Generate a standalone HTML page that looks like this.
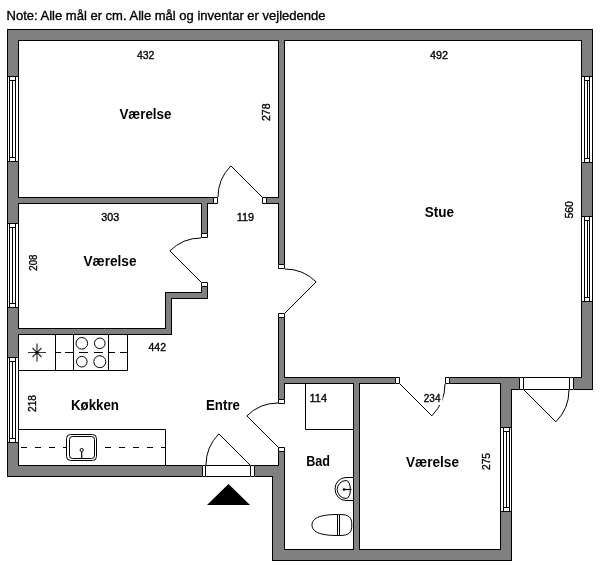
<!DOCTYPE html>
<html><head><meta charset="utf-8"><style>
html,body{margin:0;padding:0;background:#fff;width:600px;height:566px;overflow:hidden;position:relative}
svg text{font-family:"Liberation Sans",sans-serif}
</style></head><body>
<svg width="600" height="566" viewBox="0 0 600 566" style="position:absolute;left:0;top:0;will-change:transform">
<path d="M7 29H593V41H7ZM7 29H19V477H7ZM581 29H593V390H581ZM7 465H285V477H7ZM272 465H285V561H272ZM272 549H512V561H272ZM500 377H512V561H500ZM500 377H593V390H500ZM278 29H285V477H278ZM7 197H285V204H7ZM201 197H208V299H201ZM165 292H208V299H165ZM165 292H172V335H165ZM7 328H172V335H7ZM278 377H512V384H278ZM353 377H360V561H353Z" fill="#000"/>
<path d="M8 30H592V40H8ZM8 30H18V476H8ZM582 30H592V389H582ZM8 466H284V476H8ZM273 466H284V560H273ZM273 550H511V560H273ZM501 378H511V560H501ZM501 378H592V389H501ZM279 30H284V476H279ZM8 198H284V203H8ZM202 198H207V298H202ZM166 293H207V298H166ZM166 293H171V334H166ZM8 329H171V334H8ZM279 378H511V383H279ZM354 378H359V560H354Z" fill="#808080"/>
<path d="M213 197H267V204H213ZM201 233H208V287H201ZM278 264H285V318H278ZM278 399H285V452H278ZM395 377H450V384H395ZM202 465H255V477H202ZM519 377H574V390H519ZM7 76H19V162H7ZM7 223H19V308H7ZM7 357H19V443H7ZM581 76H593V163H581ZM581 216H593V302H581ZM500 427H512V512H500Z" fill="#fff"/>
<path d="M206 465.5H250M206 476.5H250M524 377.5H569M524 389.5H569M213.5 197.5H217.5V203.5H213.5ZM262.5 197.5H266.5V203.5H262.5ZM201.5 233.5H207.5V237.5H201.5ZM201.5 282.5H207.5V286.5H201.5ZM278.5 264.5H284.5V268.5H278.5ZM278.5 313.5H284.5V317.5H278.5ZM278.5 399.5H284.5V403.5H278.5ZM278.5 447.5H284.5V451.5H278.5ZM395.5 377.5H399.5V383.5H395.5ZM445.5 377.5H449.5V383.5H445.5ZM202.5 465.5H205.5V476.5H202.5ZM250.5 465.5H254.5V476.5H250.5ZM519.5 377.5H523.5V389.5H519.5ZM569.5 377.5H573.5V389.5H569.5ZM7.5 76V162M18.5 76V162M7.5 76.5H18.5M7.5 161.5H18.5M9.5 76V162M15.5 76V162M9.5 80.5H15.5M9.5 157.5H15.5M12.5 80.5V157.5M7.5 223V308M18.5 223V308M7.5 223.5H18.5M7.5 307.5H18.5M9.5 223V308M15.5 223V308M9.5 227.5H15.5M9.5 303.5H15.5M12.5 227.5V303.5M7.5 357V443M18.5 357V443M7.5 357.5H18.5M7.5 442.5H18.5M9.5 357V443M15.5 357V443M9.5 361.5H15.5M9.5 438.5H15.5M12.5 361.5V438.5M581.5 76V163M592.5 76V163M581.5 76.5H592.5M581.5 162.5H592.5M584.5 76V163M589.5 76V163M584.5 80.5H589.5M584.5 158.5H589.5M587.5 80.5V158.5M581.5 216V302M592.5 216V302M581.5 216.5H592.5M581.5 301.5H592.5M584.5 216V302M589.5 216V302M584.5 220.5H589.5M584.5 297.5H589.5M587.5 220.5V297.5M500.5 427V512M511.5 427V512M500.5 427.5H511.5M500.5 511.5H511.5M503.5 427V512M509.5 427V512M503.5 431.5H509.5M503.5 507.5H509.5M506.5 431.5V507.5" fill="none" stroke="#000" stroke-width="1"/>
<path d="M262 197L230.89 165.89A44.00 44.00 0 0 0 218 197M201 282L169.89 250.89A44.00 44.00 0 0 1 201 238M285 313L316.11 281.89A44.00 44.00 0 0 0 285 269M278 447L246.89 415.89A44.00 44.00 0 0 1 278 403M400 384L431.82 415.82A45.00 45.00 0 0 0 445 384M250 465L218.89 433.89A44.00 44.00 0 0 0 206 465M524 390L555.82 421.82A45.00 45.00 0 0 0 569 390" fill="none" stroke="#000" stroke-width="1"/>
<path d="M19 370.5H127.5V335M55.5 335V370.5M73.5 335V370.5M108.5 335V370.5" fill="none" stroke="#000" stroke-width="1"/>
<path d="M56 352.5H61M65 352.5H73M79 352.5H88M94 352.5H103M109 352.5H115M120 352.5H127" fill="none" stroke="#000" stroke-width="1"/>
<g fill="none" stroke="#000" stroke-width="1"><circle cx="81.8" cy="343.3" r="5.8"/><circle cx="99.8" cy="343.3" r="5.3"/><circle cx="81.8" cy="361.7" r="5.3"/><circle cx="99.8" cy="361.7" r="6"/></g>
<path d="M28 352.5H46M37 343.5V361.5M32.5 348L41.5 357M41.5 348L32.5 357" stroke="#333" stroke-width="1.2" fill="none"/><circle cx="37" cy="352.5" r="1.3" fill="#000"/>
<path d="M19 429.5H165.5V465" fill="none" stroke="#000" stroke-width="1"/>
<path d="M19 447.5H165" fill="none" stroke="#000" stroke-width="1" stroke-dasharray="6 8" stroke-dashoffset="-2"/>
<rect x="66.5" y="434.5" width="30" height="26" rx="4" fill="#fff" stroke="#000" stroke-width="1"/>
<rect x="69.5" y="436.5" width="25" height="22" rx="3" fill="none" stroke="#000" stroke-width="1"/>
<circle cx="81.7" cy="450" r="1.6" fill="none" stroke="#000" stroke-width="1"/><path d="M81.7 452V459" stroke="#000" stroke-width="1.2"/>
<path d="M305.5 384V429.5H353" fill="none" stroke="#000" stroke-width="1"/>
<path d="M353 477.5H346A11 11.5 0 0 0 346 500.5H353" fill="#fff" stroke="#000" stroke-width="1"/>
<path d="M346.2 480.5A9 9 0 0 0 346.2 498.5A4.2 9 0 0 0 346.2 480.5Z" fill="none" stroke="#000" stroke-width="1"/>
<circle cx="344" cy="489.5" r="1.3" fill="#000"/><path d="M344 489.5H351.5" stroke="#000" stroke-width="1.2"/>
<path d="M338.5 514.5H337.5C318 514.5 312 519 312 525C312 531 318 535.5 337.5 535.5H339.5C349.5 535.5 351.8 532.5 351.8 525C351.8 517.5 349.5 514.5 339.5 514.5Z" fill="#fff" stroke="#000" stroke-width="1"/>
<path d="M337.5 514.5V535.5M339.5 514.5V535.5" stroke="#000" stroke-width="1"/>
<path d="M228.5 484L250 505H207Z" fill="#000"/>
<rect x="422" y="392" width="20.5" height="13" fill="#fff"/>
<g font-family="Liberation Sans, sans-serif" fill="#000"><text x="6.5" y="20" font-size="13" font-weight="normal" stroke="#000" stroke-width="0.35" textLength="319.0" lengthAdjust="spacingAndGlyphs">Note: Alle mål er cm. Alle mål og inventar er vejledende</text><text x="136.9" y="58.8" font-size="10.5" font-weight="normal" stroke="#000" stroke-width="0.35" textLength="17.5" lengthAdjust="spacingAndGlyphs">432</text><text x="430" y="58.9" font-size="10.5" font-weight="normal" stroke="#000" stroke-width="0.35" textLength="18.0" lengthAdjust="spacingAndGlyphs">492</text><text x="101.3" y="220.8" font-size="10.5" font-weight="normal" stroke="#000" stroke-width="0.35" textLength="17.9" lengthAdjust="spacingAndGlyphs">303</text><text x="236.7" y="221" font-size="10.5" font-weight="normal" stroke="#000" stroke-width="0.35" textLength="17.3" lengthAdjust="spacingAndGlyphs">119</text><text x="148.5" y="351.4" font-size="10.5" font-weight="normal" stroke="#000" stroke-width="0.35" textLength="17.5" lengthAdjust="spacingAndGlyphs">442</text><text x="309.5" y="401.9" font-size="10.5" font-weight="normal" stroke="#000" stroke-width="0.35" textLength="17.5" lengthAdjust="spacingAndGlyphs">114</text><text x="119.4" y="118.5" font-size="14.5" font-weight="bold" textLength="52.1" lengthAdjust="spacingAndGlyphs">Værelse</text><text x="424.7" y="217.29999999999998" font-size="14.5" font-weight="bold" textLength="29.3" lengthAdjust="spacingAndGlyphs">Stue</text><text x="83.5" y="265.90000000000003" font-size="14.5" font-weight="bold" textLength="53.0" lengthAdjust="spacingAndGlyphs">Værelse</text><text x="71" y="410.20000000000005" font-size="14.5" font-weight="bold" textLength="48.0" lengthAdjust="spacingAndGlyphs">Køkken</text><text x="206" y="409.8" font-size="14.5" font-weight="bold" textLength="34.0" lengthAdjust="spacingAndGlyphs">Entre</text><text x="306.2" y="466.0" font-size="14.5" font-weight="bold" textLength="23.8" lengthAdjust="spacingAndGlyphs">Bad</text><text x="406" y="466.6" font-size="14.5" font-weight="bold" textLength="53.0" lengthAdjust="spacingAndGlyphs">Værelse</text><text transform="translate(269.6 121.0) rotate(-90)" stroke="#000" stroke-width="0.35" font-size="10.5" textLength="17.6" lengthAdjust="spacingAndGlyphs">278</text><text transform="translate(572.7 218.6) rotate(-90)" stroke="#000" stroke-width="0.35" font-size="10.5" textLength="17.6" lengthAdjust="spacingAndGlyphs">560</text><text transform="translate(36.5 270.7) rotate(-90)" stroke="#000" stroke-width="0.35" font-size="10.5" textLength="16.0" lengthAdjust="spacingAndGlyphs">208</text><text transform="translate(36.4 412.0) rotate(-90)" stroke="#000" stroke-width="0.35" font-size="10.5" textLength="17.0" lengthAdjust="spacingAndGlyphs">218</text><text transform="translate(490.0 470.0) rotate(-90)" stroke="#000" stroke-width="0.35" font-size="10.5" textLength="17.0" lengthAdjust="spacingAndGlyphs">275</text><text x="423.8" y="401.7" font-size="10.5" font-weight="normal" stroke="#000" stroke-width="0.35" textLength="16.7" lengthAdjust="spacingAndGlyphs">234</text></g>
</svg>
</body></html>
